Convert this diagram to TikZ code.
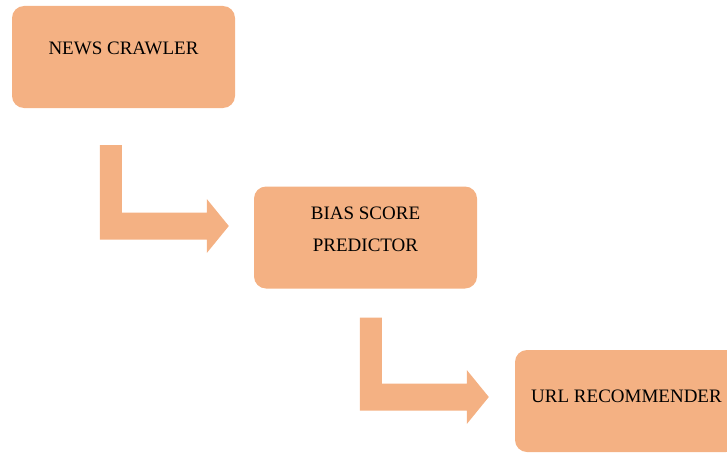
\documentclass[tikz,border=0pt]{standalone}
\usepackage{fontspec}
\setmainfont{Liberation Serif}
\usetikzlibrary{calc}

\definecolor{peach}{HTML}{F4B183}

% push the text up inside its box
\newcommand{\lift}[1]{\rule[-#1]{0pt}{0pt}}

% bent block arrow: top-left corner of the shaft, then the tip
\newcommand{\bentarrow}[2]{%
  \fill[flow] (#1) -- ++(22,0) |- ($(#2)+(-22,-13.5)$) -- ++(0,-13.5)
    -- (#2) -- ++(-22,27) -- ++(0,-13.5) -| (#1) -- cycle;
}

\begin{document}
\begin{tikzpicture}[
  x=1pt, y=-1pt,
  stage/.style={fill=peach, rounded corners=12pt, minimum width=223pt,
    minimum height=102pt, inner sep=0pt, align=center,
    font=\fontsize{19}{32}\selectfont},
  flow/.style={fill=peach},
]
\useasboundingbox (0,0) rectangle (727,452);
\clip (0,0) rectangle (727,452);

% stages
\node[stage] (crawler) at (123.5,57) {NEWS CRAWLER\lift{17pt}};
\node[stage] (predictor) at (365.5,237.5) {BIAS SCORE\\PREDICTOR\lift{16pt}};
\node[stage] (recommender) at (626.5,401) {URL RECOMMENDER\lift{10pt}};

% arrow ends
\coordinate (crawl-out) at ($(crawler.south west)+(88,37)$);
\coordinate (pred-in) at ($(predictor.west)+(-25,-11.5)$);
\coordinate (pred-out) at ($(predictor.south west)+(106,29)$);
\coordinate (rec-in) at ($(recommender.west)+(-26,-4)$);

% arrows
\bentarrow{crawl-out}{pred-in}
\bentarrow{pred-out}{rec-in}

\end{tikzpicture}
\end{document}
